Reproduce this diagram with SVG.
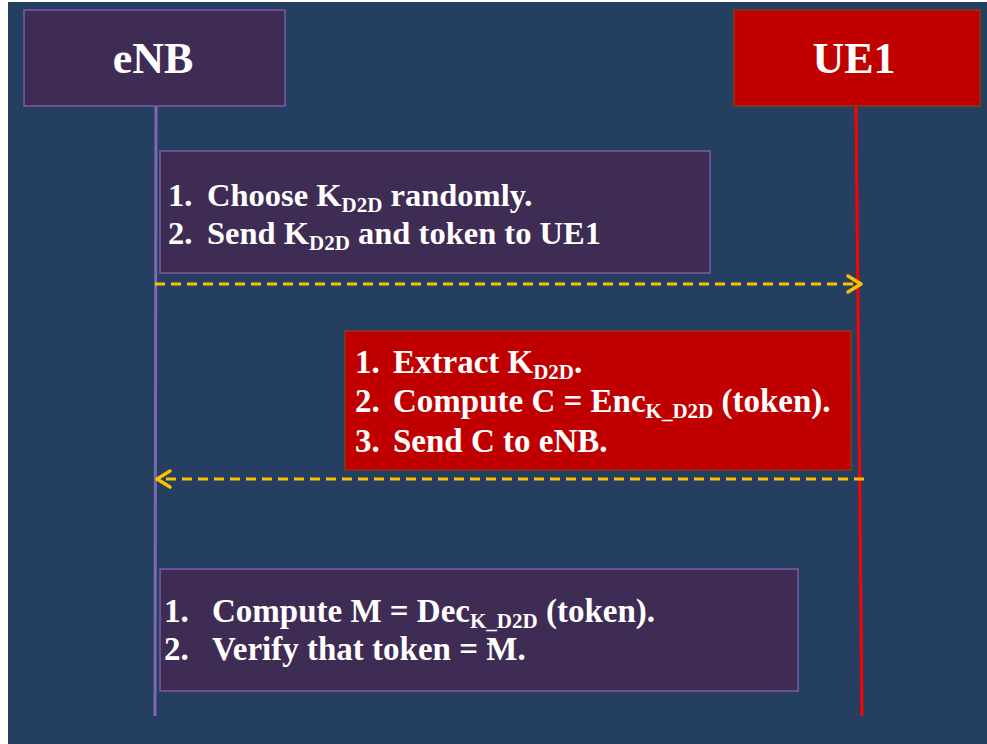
<svg xmlns="http://www.w3.org/2000/svg" width="987" height="744" viewBox="0 0 987 744">
<style>
.bg{fill:#243F60}
.pbox{fill:#3F2C54;stroke:#7B5CA6;stroke-width:1.5}
.rbox{fill:#C00000;stroke:#8A3A12;stroke-width:1.5}
.title{font-family:"Liberation Serif","Times New Roman",serif;font-weight:bold;font-size:44px;fill:#FFFFFF;text-anchor:middle}
.t{font-family:"Liberation Serif","Times New Roman",serif;font-weight:bold;font-size:32.5px;fill:#FFFFFF}
.t3{font-size:33px}
.sub{font-size:21px}
.msg{stroke:#FFC000;stroke-width:3;stroke-dasharray:10,6;fill:none}
.head{stroke:#FFC000;stroke-width:3.5;fill:none;stroke-linecap:round;stroke-linejoin:round}
</style>
<rect x="8" y="2" width="979" height="742" class="bg"/>
<g id="lifelines">
<line x1="156" y1="106" x2="155" y2="716" stroke="#8068B4" stroke-width="3"/>
<line x1="856" y1="106" x2="862" y2="716" stroke="#FF0000" stroke-width="3"/>
</g>
<g id="eNB">
<rect x="24" y="10" width="261" height="96" class="pbox"/>
<text x="153" y="73" class="title">eNB</text>
</g>
<g id="UE1">
<rect x="734" y="10" width="246" height="96" class="rbox"/>
<text x="854" y="73" class="title">UE1</text>
</g>
<g id="step1">
<rect x="160" y="151" width="550" height="122" class="pbox"/>
<text y="206" class="t"><tspan x="168">1.</tspan><tspan x="207">Choose K</tspan><tspan class="sub" dy="6">D2D</tspan><tspan dy="-6"> randomly.</tspan></text>
<text y="244" class="t"><tspan x="168">2.</tspan><tspan x="207">Send K</tspan><tspan class="sub" dy="6">D2D</tspan><tspan dy="-6"> and token to UE1</tspan></text>
</g>
<g id="step2">
<rect x="345" y="331" width="506" height="139" class="rbox"/>
<text y="373" class="t t3"><tspan x="355">1.</tspan><tspan x="393">Extract K</tspan><tspan class="sub" dy="6">D2D</tspan><tspan dy="-6">.</tspan></text>
<text y="412" class="t t3"><tspan x="355">2.</tspan><tspan x="393">Compute C = Enc</tspan><tspan class="sub" dy="6">K_D2D</tspan><tspan dy="-6"> (token).</tspan></text>
<text y="452" class="t t3"><tspan x="355">3.</tspan><tspan x="393">Send C to eNB.</tspan></text>
</g>
<g id="step3">
<rect x="160" y="569" width="638" height="122" class="pbox"/>
<text y="622" class="t t3"><tspan x="164">1.</tspan><tspan x="212">Compute M = Dec</tspan><tspan class="sub" dy="6">K_D2D</tspan><tspan dy="-6"> (token).</tspan></text>
<text y="660" class="t t3"><tspan x="164">2.</tspan><tspan x="212">Verify that token = M.</tspan></text>
<line x1="487" y1="644" x2="497" y2="644" stroke="#FFFFFF" stroke-width="1.5"/>
</g>
<g id="connectors">
<line x1="155" y1="284" x2="858" y2="284" class="msg"/>
<polyline points="848,276 861,284 848,292" class="head"/>
<line x1="864" y1="479" x2="160" y2="479" class="msg"/>
<polyline points="170,471 157,479 170,487" class="head"/>
</g>
</svg>
